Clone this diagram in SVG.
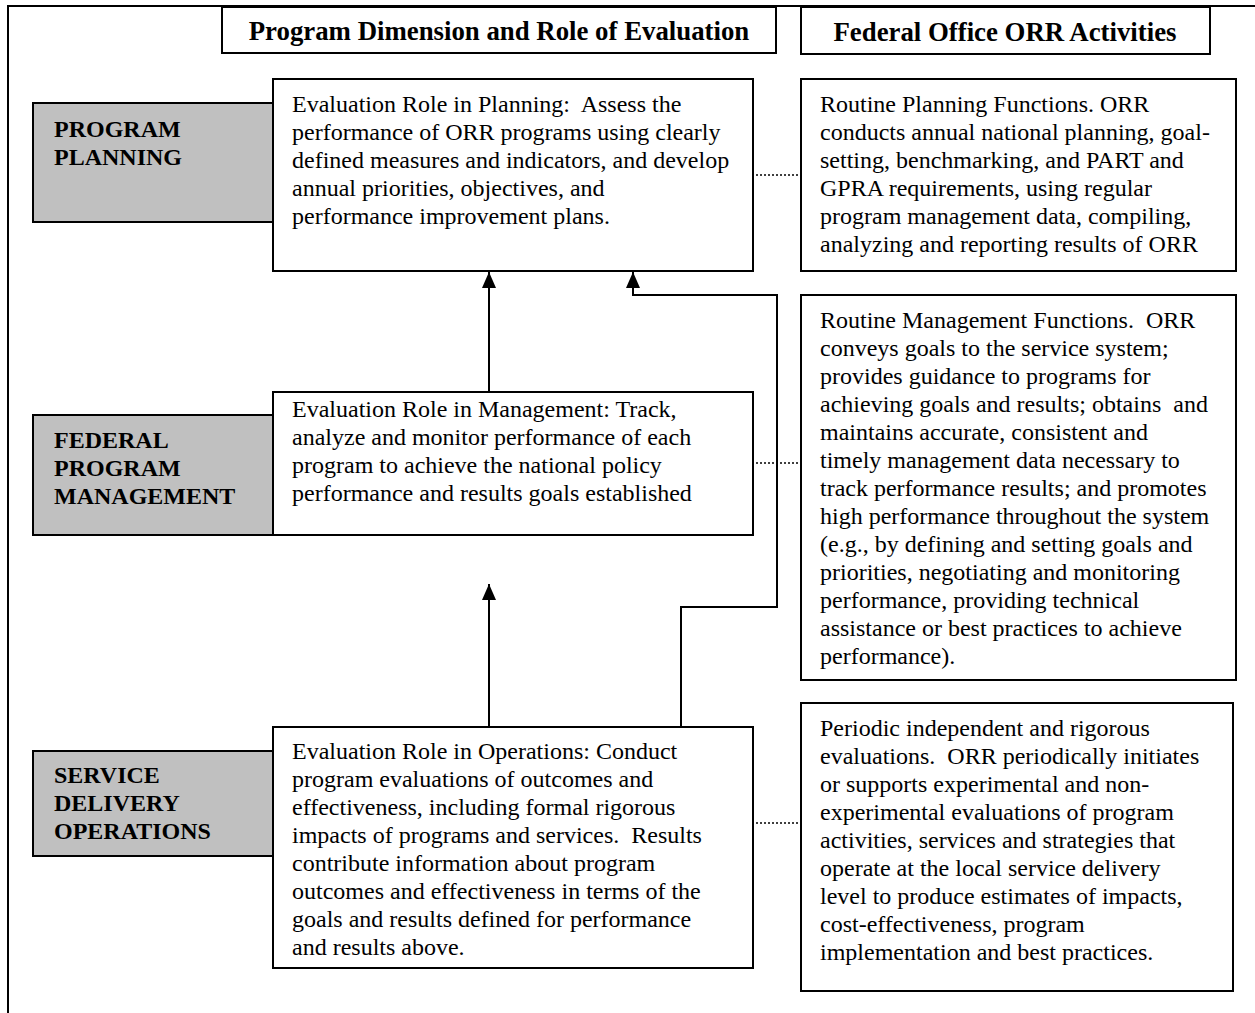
<svg xmlns="http://www.w3.org/2000/svg" width="1255" height="1013" viewBox="0 0 1255 1013">
<defs>
<marker id="ah" markerWidth="16" markerHeight="16" refX="16" refY="8" orient="auto" markerUnits="userSpaceOnUse" viewBox="0 0 16 16">
<path d="M16 8 L0 1 L0 15 Z" fill="#000"/>
</marker>
<style>
.box{fill:#fff;stroke:#000;stroke-width:2}
.gray{fill:#c0c0c0;stroke:#000;stroke-width:2}
.t{font-family:"Liberation Serif","Times New Roman",serif;font-size:24px;fill:#000}
.b{font-family:"Liberation Serif","Times New Roman",serif;font-size:24px;font-weight:bold;fill:#000}
.h{font-family:"Liberation Serif","Times New Roman",serif;font-size:26.8px;font-weight:bold;fill:#000;text-anchor:middle}
.conn{fill:none;stroke:#000;stroke-width:2}
.dot{fill:none;stroke:#000;stroke-width:1.5;stroke-dasharray:2 2}
</style>
</defs>
<rect x="8" y="6" width="1300" height="1100" fill="#fff" stroke="#000" stroke-width="2"/>

<g id="header-program">
<rect class="box" x="222" y="7" width="554" height="46"/>
<text class="h" x="499" y="40">Program Dimension and Role of Evaluation</text>
</g>
<g id="header-federal">
<rect class="box" x="801" y="7" width="409" height="47"/>
<text class="h" x="1005" y="41">Federal Office ORR Activities</text>
</g>

<g id="connectors">
<path class="conn" d="M489 392 V272" marker-end="url(#ah)"/>
<path class="conn" d="M681 727 V607 H777 V295 H633 V272" marker-end="url(#ah)"/>
<path class="conn" d="M489 727 V584" marker-end="url(#ah)"/>
<path class="dot" d="M756 175 H799"/>
<path class="dot" d="M756 463 H799"/>
<path class="dot" d="M756 823 H799"/>
</g>

<g id="label-planning">
<rect class="gray" x="33" y="103" width="250" height="119"/>
<text class="b" x="54" y="137">PROGRAM</text>
<text class="b" x="54" y="165">PLANNING</text>
</g>
<g id="eval-planning">
<rect class="box" x="273" y="79" width="480" height="192"/>
<text class="t" x="292" y="112" xml:space="preserve">Evaluation Role in Planning:  Assess the</text>
<text class="t" x="292" y="140">performance of ORR programs using clearly</text>
<text class="t" x="292" y="168">defined measures and indicators, and develop</text>
<text class="t" x="292" y="196">annual priorities, objectives, and</text>
<text class="t" x="292" y="224">performance improvement plans.</text>
</g>
<g id="orr-planning">
<rect class="box" x="801" y="79" width="435" height="192"/>
<text class="t" x="820" y="112">Routine Planning Functions. ORR</text>
<text class="t" x="820" y="140">conducts annual national planning, goal-</text>
<text class="t" x="820" y="168">setting, benchmarking, and PART and</text>
<text class="t" x="820" y="196">GPRA requirements, using regular</text>
<text class="t" x="820" y="224">program management data, compiling,</text>
<text class="t" x="820" y="252">analyzing and reporting results of ORR</text>
</g>

<g id="label-management">
<rect class="gray" x="33" y="415" width="250" height="120"/>
<text class="b" x="54" y="448">FEDERAL</text>
<text class="b" x="54" y="476">PROGRAM</text>
<text class="b" x="54" y="504">MANAGEMENT</text>
</g>
<g id="eval-management">
<rect class="box" x="273" y="392" width="480" height="143"/>
<text class="t" x="292" y="417">Evaluation Role in Management: Track,</text>
<text class="t" x="292" y="445">analyze and monitor performance of each</text>
<text class="t" x="292" y="473">program to achieve the national policy</text>
<text class="t" x="292" y="501">performance and results goals established</text>
</g>
<g id="orr-management">
<rect class="box" x="801" y="295" width="435" height="385"/>
<text class="t" x="820" y="328" xml:space="preserve">Routine Management Functions.  ORR</text>
<text class="t" x="820" y="356">conveys goals to the service system;</text>
<text class="t" x="820" y="384">provides guidance to programs for</text>
<text class="t" x="820" y="412" xml:space="preserve">achieving goals and results; obtains  and</text>
<text class="t" x="820" y="440">maintains accurate, consistent and</text>
<text class="t" x="820" y="468">timely management data necessary to</text>
<text class="t" x="820" y="496">track performance results; and promotes</text>
<text class="t" x="820" y="524">high performance throughout the system</text>
<text class="t" x="820" y="552">(e.g., by defining and setting goals and</text>
<text class="t" x="820" y="580">priorities, negotiating and monitoring</text>
<text class="t" x="820" y="608">performance, providing technical</text>
<text class="t" x="820" y="636">assistance or best practices to achieve</text>
<text class="t" x="820" y="664">performance).</text>
</g>

<g id="label-operations">
<rect class="gray" x="33" y="751" width="250" height="105"/>
<text class="b" x="54" y="783">SERVICE</text>
<text class="b" x="54" y="811">DELIVERY</text>
<text class="b" x="54" y="839">OPERATIONS</text>
</g>
<g id="eval-operations">
<rect class="box" x="273" y="727" width="480" height="241"/>
<text class="t" x="292" y="759">Evaluation Role in Operations: Conduct</text>
<text class="t" x="292" y="787">program evaluations of outcomes and</text>
<text class="t" x="292" y="815">effectiveness, including formal rigorous</text>
<text class="t" x="292" y="843" xml:space="preserve">impacts of programs and services.  Results</text>
<text class="t" x="292" y="871">contribute information about program</text>
<text class="t" x="292" y="899">outcomes and effectiveness in terms of the</text>
<text class="t" x="292" y="927">goals and results defined for performance</text>
<text class="t" x="292" y="955">and results above.</text>
</g>
<g id="orr-operations">
<rect class="box" x="801" y="703" width="432" height="288"/>
<text class="t" x="820" y="736">Periodic independent and rigorous</text>
<text class="t" x="820" y="764" xml:space="preserve">evaluations.  ORR periodically initiates</text>
<text class="t" x="820" y="792">or supports experimental and non-</text>
<text class="t" x="820" y="820">experimental evaluations of program</text>
<text class="t" x="820" y="848">activities, services and strategies that</text>
<text class="t" x="820" y="876">operate at the local service delivery</text>
<text class="t" x="820" y="904">level to produce estimates of impacts,</text>
<text class="t" x="820" y="932">cost-effectiveness, program</text>
<text class="t" x="820" y="960">implementation and best practices.</text>
</g>
</svg>
